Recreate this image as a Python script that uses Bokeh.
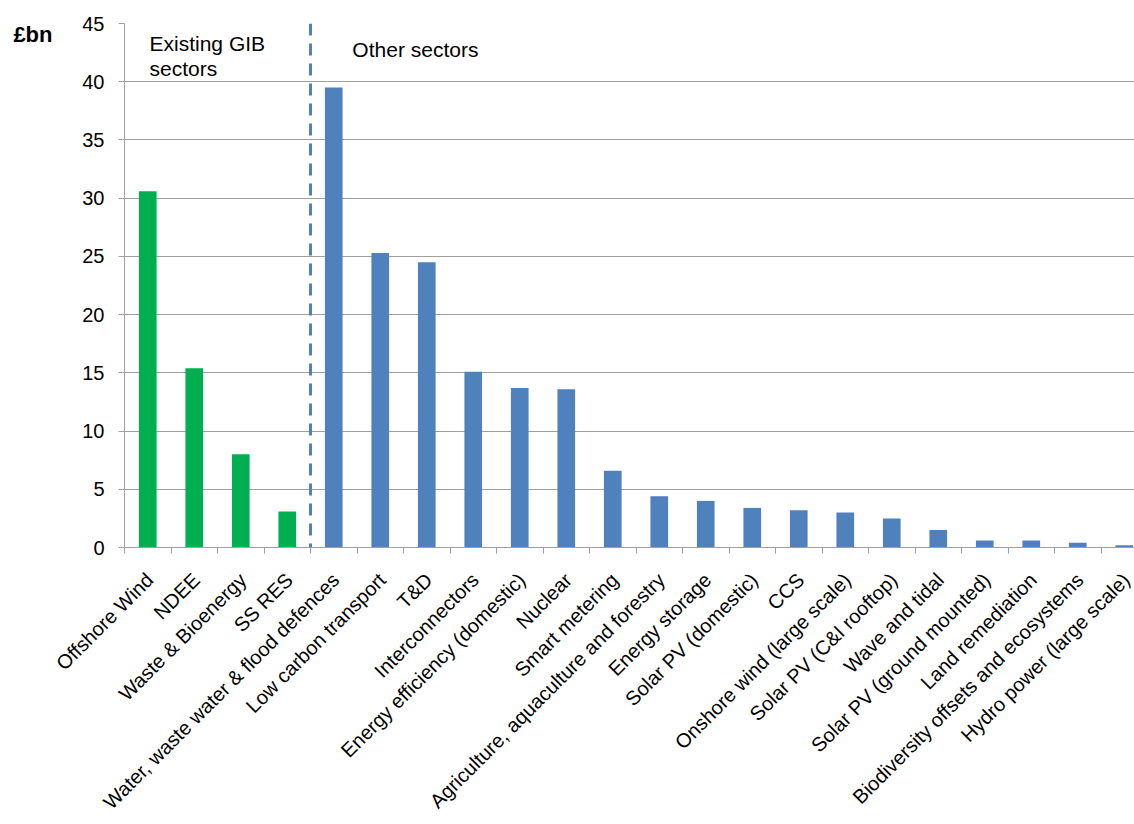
import math
import numpy as np
from bokeh.plotting import figure
from bokeh.models import FixedTicker, Span, Label, Range1d, LinearAxis
from bokeh.embed import file_html
from bokeh.resources import INLINE

# Investment need by sector (GBP bn)
categories = [
    "Offshore Wind", "NDEE", "Waste & Bioenergy", "SS RES",
    "Water, waste water & flood defences", "Low carbon transport", "T&D",
    "Interconnectors", "Energy efficiency (domestic)", "Nuclear",
    "Smart metering", "Agriculture, aquaculture and forestry",
    "Energy storage", "Solar PV (domestic)", "CCS",
    "Onshore wind (large scale)", "Solar PV (C&I rooftop)", "Wave and tidal",
    "Solar PV (ground mounted)", "Land remediation",
    "Biodiversity offsets and ecosystems", "Hydro power (large scale)",
]
values = [30.6, 15.4, 8.0, 3.1, 39.5, 25.3, 24.5, 15.1, 13.7, 13.6, 6.6, 4.4,
          4.0, 3.4, 3.2, 3.0, 2.5, 1.5, 0.6, 0.6, 0.4, 0.2]
groups = ["existing"] * 4 + ["other"] * 18
y_ticks = [0, 5, 10, 15, 20, 25, 30, 35, 40, 45]

FONT = "Liberation Sans"
GREEN = "#00B050"
BLUE = "#4F81BD"
GRID = "#9f9f9f"

n = len(categories)
centers = np.arange(n) + 0.5
colors = [GREEN if g == "existing" else BLUE for g in groups]

p = figure(width=1134, height=824,
           x_range=Range1d(0, 21.72), y_range=Range1d(0, 45),
           output_backend="svg", toolbar_location=None,
           min_border_left=124, min_border_right=0,
           min_border_top=23, min_border_bottom=275)
p.outline_line_color = None
p.background_fill_color = "white"
p.border_fill_color = "white"

p.vbar(x=centers, top=values, width=0.38, bottom=0, fill_color=colors,
       line_color=None)

# grid
p.xgrid.visible = False
p.ygrid.ticker = FixedTicker(ticks=y_ticks)
p.ygrid.grid_line_color = GRID
p.ygrid.grid_line_width = 1

# y axis
p.yaxis.ticker = FixedTicker(ticks=y_ticks)
p.yaxis.axis_line_color = GRID
p.yaxis.major_tick_line_color = GRID
p.yaxis.major_tick_out = 6
p.yaxis.major_tick_in = 0
p.yaxis.minor_tick_line_color = None
p.yaxis.major_label_text_font = FONT
p.yaxis.major_label_text_font_size = "20px"
p.yaxis.major_label_text_color = "black"
p.yaxis.major_label_standoff = 14

# unit caption as a second, bare axis left of the value axis
unit_y = 44.06
unit_axis = LinearAxis(ticker=FixedTicker(ticks=[unit_y]),
                       major_label_overrides={unit_y: "£bn"})
unit_axis.axis_line_color = None
unit_axis.major_tick_line_color = None
unit_axis.minor_tick_line_color = None
unit_axis.major_tick_out = 0
unit_axis.major_tick_in = 0
unit_axis.major_label_standoff = 27
unit_axis.major_label_text_font = FONT
unit_axis.major_label_text_font_size = "22px"
unit_axis.major_label_text_font_style = "bold"
unit_axis.major_label_text_color = "black"
p.add_layout(unit_axis, "left")

# x axis: boundary ticks as minor ticks, category names as rotated labels
label_shift = 0.043
label_pos = [float(c + label_shift) for c in centers]
p.xaxis.ticker = FixedTicker(ticks=label_pos,
                             minor_ticks=list(range(0, n)))
p.xaxis.major_label_overrides = {pos: name for pos, name in
                                 zip(label_pos, categories)}
p.xaxis.axis_line_color = GRID
p.xaxis.major_tick_line_color = None
p.xaxis.major_tick_out = 0
p.xaxis.major_tick_in = 0
p.xaxis.minor_tick_line_color = GRID
p.xaxis.minor_tick_out = 6
p.xaxis.minor_tick_in = 0
p.xaxis.major_label_orientation = math.pi / 4
p.xaxis.major_label_standoff = 23
p.xaxis.major_label_text_font = FONT
p.xaxis.major_label_text_font_size = "20px"
p.xaxis.major_label_text_color = "black"

# divider between existing and other sectors
p.add_layout(Span(location=4, dimension="height", line_color=BLUE,
                  line_width=3, line_dash="12 8"))

p.add_layout(Label(x=0.538, y=42.3, text="Existing GIB", text_font=FONT,
                   text_font_size="21px", text_color="black"))
p.add_layout(Label(x=0.538, y=40.14, text="sectors", text_font=FONT,
                   text_font_size="21px", text_color="black"))
p.add_layout(Label(x=4.90, y=41.79, text="Other sectors", text_font=FONT,
                   text_font_size="21px", text_color="black"))

open("out.html", "w").write(file_html(p, INLINE))
